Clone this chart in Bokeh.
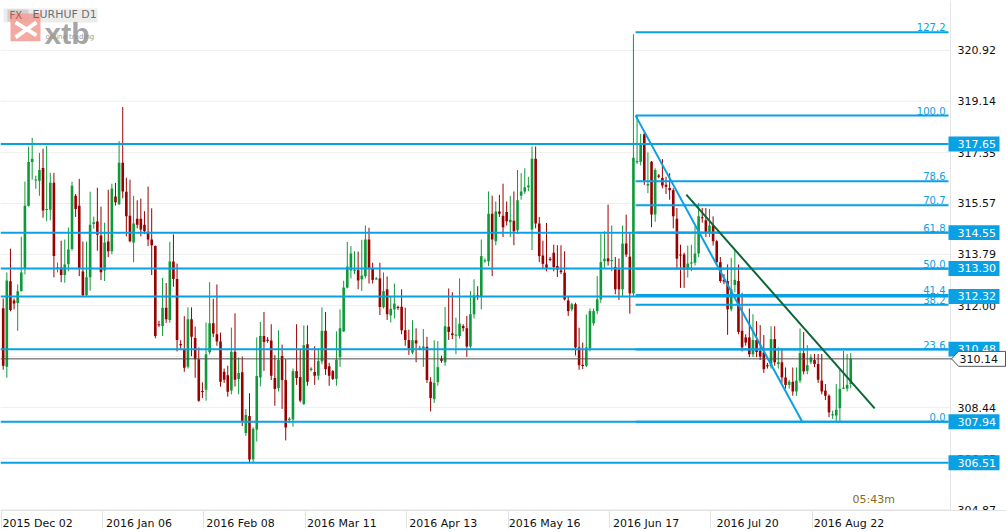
from bokeh.plotting import figure
from bokeh.models import FixedTicker, ColumnDataSource, Range1d
from bokeh.core.properties import value
from bokeh.embed import file_html
from bokeh.resources import INLINE

# ---------------- data ----------------
opens = [311.91, 309.86, 312.85, 312.18, 312.09, 312.50, 313.29, 315.49, 317.02, 316.38,
         316.36, 316.81, 315.34, 315.35, 316.29, 313.29, 313.33, 313.07, 313.45, 313.98,
         315.84, 315.49, 313.19, 312.36, 312.99, 314.85, 314.94, 314.45, 313.23, 314.24,
         313.90, 315.81, 315.54, 316.99, 315.98, 315.14, 314.21, 315.04, 315.04, 314.83,
         314.58, 314.31, 314.08, 311.35, 311.29, 311.93, 311.50, 313.54, 312.93, 310.65,
         310.48, 309.86, 311.52, 310.87, 310.13, 309.02, 309.06, 310.37, 311.38, 311.00,
         310.75, 309.69, 309.57, 309.03, 310.39, 309.44, 309.67, 307.55, 308.14, 306.63,
         307.67, 309.49, 310.94, 310.80, 310.78, 309.47, 309.12, 310.24, 309.40, 308.00,
         308.02, 309.71, 309.50, 308.56, 310.65, 309.75, 309.68, 309.55, 310.05, 311.12,
         309.88, 309.71, 309.44, 310.20, 311.10, 312.63, 313.23, 313.22, 313.24, 312.92,
         313.03, 314.31, 313.32, 312.92, 312.95, 311.95, 312.57, 311.66, 311.87, 311.95,
         311.96, 311.14, 310.80, 310.36, 310.79, 310.50, 310.50, 310.56, 309.34, 308.74,
         309.33, 310.15, 310.02, 311.26, 311.03, 310.96, 310.94, 311.29, 311.21, 310.57,
         311.70, 312.36, 312.33, 313.55, 313.55, 315.21, 314.25, 315.29, 315.14, 315.27,
         314.91, 314.97, 314.63, 315.84, 315.99, 316.14, 314.66, 317.13, 314.87, 313.75,
         313.44, 313.63, 313.85, 313.38, 313.23, 313.15, 312.18, 311.87, 312.05, 310.54,
         309.92, 309.90, 310.51, 311.38, 311.81, 312.22, 313.55, 313.65, 313.57, 313.35,
         313.26, 312.57, 314.17, 313.71, 312.43, 317.01, 317.03, 317.99, 316.20, 317.03,
         315.18, 316.55, 316.46, 316.22, 316.11, 316.03, 315.04, 313.79, 313.79, 313.27,
         313.48, 313.50, 313.82, 315.08, 314.98, 314.54, 314.80, 314.25, 313.52, 312.90,
         312.86, 311.87, 312.72, 312.86, 311.12, 310.89, 310.89, 310.30, 310.80, 310.42,
         310.36, 309.92, 309.88, 310.83, 309.96, 310.02, 309.49, 309.23, 309.34, 309.00,
         309.38, 310.34, 309.72, 310.02, 310.10, 309.96, 309.38, 309.03, 308.85, 308.17,
         308.16, 308.42, 309.10, 309.10, 309.26]
highs = [312.25, 313.16, 313.99, 312.25, 312.74, 314.41, 316.33, 317.55, 317.86, 316.54,
         317.34, 317.48, 317.58, 316.64, 316.64, 313.51, 314.27, 314.31, 314.73, 316.33,
         315.90, 316.43, 314.24, 314.24, 315.98, 315.11, 316.12, 315.46, 314.90, 316.05,
         316.26, 316.29, 317.75, 318.94, 316.47, 316.40, 315.84, 315.68, 315.74, 315.30,
         316.16, 315.40, 314.10, 311.47, 312.97, 312.79, 314.23, 314.49, 313.47, 310.79,
         311.63, 311.94, 311.94, 311.27, 310.54, 309.32, 311.41, 312.82, 312.24, 312.74,
         311.06, 309.80, 309.90, 311.23, 311.73, 310.19, 310.22, 308.39, 308.94, 307.75,
         310.89, 311.43, 311.78, 310.90, 311.35, 310.27, 311.14, 310.64, 310.13, 308.10,
         309.80, 311.35, 310.45, 311.31, 311.31, 309.85, 310.58, 310.50, 311.94, 311.78,
         310.00, 309.75, 311.10, 311.87, 312.87, 314.23, 314.08, 313.90, 313.89, 314.30,
         314.80, 314.72, 313.50, 313.00, 313.50, 313.16, 313.02, 312.33, 312.77, 312.00,
         312.57, 311.93, 311.16, 311.49, 311.21, 310.60, 311.18, 310.91, 309.50, 310.79,
         310.76, 310.25, 311.95, 312.60, 312.47, 311.58, 312.95, 311.35, 311.64, 312.51,
         312.92, 312.68, 314.31, 313.65, 315.99, 315.84, 315.64, 315.87, 316.26, 315.64,
         315.84, 315.99, 316.74, 316.63, 316.80, 316.50, 317.56, 317.56, 315.10, 314.27,
         314.89, 313.70, 314.13, 314.11, 314.11, 313.90, 312.33, 312.10, 312.10, 311.23,
         310.71, 311.69, 311.90, 311.90, 313.03, 314.50, 314.60, 315.53, 314.80, 313.70,
         313.65, 314.80, 315.18, 314.56, 321.48, 318.63, 318.00, 318.05, 317.35, 317.05,
         316.80, 316.60, 317.12, 316.50, 316.63, 316.10, 315.41, 314.13, 313.85, 314.10,
         314.13, 314.77, 315.59, 315.41, 315.41, 315.38, 315.12, 314.30, 313.70, 313.10,
         313.44, 313.67, 313.96, 313.44, 312.45, 311.00, 311.90, 311.70, 311.46, 311.32,
         310.97, 310.00, 311.28, 311.28, 310.54, 310.50, 309.84, 309.40, 309.84, 309.84,
         311.20, 311.08, 310.62, 310.30, 310.31, 310.31, 310.31, 309.26, 308.90, 308.33,
         309.26, 309.75, 310.42, 310.31, 310.34]
lows = [309.76, 309.48, 311.80, 311.87, 311.12, 312.50, 313.09, 315.46, 316.40, 316.08,
        315.84, 315.07, 314.95, 314.98, 312.99, 313.16, 312.82, 312.80, 313.20, 313.92,
        315.10, 313.03, 312.31, 312.31, 312.52, 314.69, 313.92, 312.89, 312.86, 313.70,
        313.80, 315.50, 315.52, 315.75, 314.42, 314.21, 313.52, 314.70, 314.42, 314.50,
        314.08, 313.07, 310.86, 311.26, 310.94, 311.40, 311.40, 312.66, 310.40, 310.48,
        309.69, 309.80, 310.23, 309.48, 308.64, 308.77, 308.68, 310.30, 310.90, 310.60,
        309.17, 309.30, 308.82, 308.90, 309.17, 308.90, 307.79, 307.45, 306.53, 306.53,
        307.25, 309.18, 309.72, 310.70, 309.40, 308.50, 309.00, 308.39, 307.29, 307.90,
        307.77, 309.23, 308.62, 308.53, 309.20, 309.70, 309.23, 309.40, 309.95, 309.58,
        309.20, 309.40, 309.20, 309.86, 311.08, 312.60, 312.95, 313.10, 312.57, 312.51,
        312.95, 312.77, 312.77, 312.90, 311.67, 311.90, 311.50, 311.41, 311.55, 311.85,
        311.00, 310.60, 310.28, 310.30, 310.02, 310.45, 309.86, 309.30, 308.30, 308.60,
        309.20, 310.00, 309.90, 310.80, 310.83, 310.30, 310.85, 311.10, 310.21, 310.50,
        311.55, 312.20, 311.87, 313.50, 313.38, 313.03, 314.11, 315.10, 314.40, 314.80,
        314.40, 314.11, 314.50, 315.70, 315.90, 316.00, 313.94, 314.70, 313.52, 313.30,
        313.20, 313.55, 313.20, 313.00, 313.10, 312.18, 311.64, 311.80, 310.26, 309.76,
        309.78, 309.85, 310.40, 311.30, 311.70, 312.10, 313.30, 313.40, 313.20, 312.40,
        312.20, 312.31, 313.70, 311.72, 312.30, 316.95, 316.90, 316.22, 315.93, 314.74,
        314.93, 316.45, 316.10, 315.90, 315.70, 314.70, 313.29, 312.62, 312.62, 312.98,
        313.20, 313.40, 313.70, 314.90, 314.40, 314.40, 314.10, 313.40, 312.80, 312.75,
        310.98, 311.80, 312.47, 311.00, 310.40, 310.60, 310.20, 310.20, 310.20, 310.10,
        309.65, 309.80, 309.80, 309.90, 309.80, 309.30, 309.10, 309.10, 308.85, 308.85,
        309.30, 309.60, 309.60, 309.95, 309.85, 309.30, 308.90, 308.70, 308.10, 308.04,
        307.93, 307.93, 309.08, 309.00, 309.11]
closes = [309.90, 312.88, 311.85, 312.07, 312.50, 313.16, 315.49, 317.02, 317.13, 316.40,
          316.74, 315.32, 315.38, 316.29, 313.73, 313.34, 313.07, 313.44, 313.96, 316.19,
          315.38, 313.29, 312.36, 312.99, 314.83, 314.91, 314.48, 313.17, 314.21, 313.90,
          316.09, 315.61, 316.99, 315.99, 315.12, 314.25, 314.87, 314.83, 314.66, 314.60,
          314.31, 314.11, 310.94, 311.31, 311.93, 311.52, 313.54, 312.93, 310.80, 310.62,
          309.83, 311.52, 310.91, 310.13, 308.68, 308.98, 310.30, 311.38, 311.03, 310.75,
          309.34, 309.41, 308.99, 310.39, 309.41, 309.65, 307.98, 308.18, 306.62, 307.70,
          309.54, 310.94, 310.73, 310.78, 309.55, 309.09, 310.10, 309.40, 307.74, 308.05,
          309.71, 309.47, 308.68, 310.62, 309.34, 309.80, 309.55, 310.06, 311.12, 309.78,
          309.55, 309.44, 310.11, 311.21, 312.63, 313.36, 313.82, 313.25, 312.88, 313.05,
          314.31, 313.32, 312.90, 312.95, 311.95, 312.51, 311.70, 311.89, 312.07, 311.92,
          311.14, 310.80, 310.51, 310.79, 310.68, 310.52, 310.57, 309.40, 308.77, 309.30,
          309.85, 310.07, 311.28, 311.08, 310.97, 310.98, 311.37, 311.21, 310.57, 311.70,
          312.36, 312.32, 313.73, 313.58, 315.21, 314.31, 315.29, 315.21, 314.74, 314.95,
          315.00, 314.60, 315.68, 315.99, 316.14, 316.20, 317.13, 314.87, 313.73, 313.46,
          313.32, 313.60, 313.35, 313.26, 313.17, 312.22, 311.81, 312.05, 310.54, 309.92,
          309.90, 310.54, 311.81, 311.81, 312.22, 313.52, 313.64, 313.55, 313.58, 312.57,
          312.57, 314.17, 313.79, 312.43, 317.17, 317.05, 317.62, 316.36, 316.25, 315.18,
          316.74, 316.50, 316.20, 316.15, 316.03, 315.12, 313.64, 313.75, 313.26, 313.47,
          313.50, 313.82, 315.12, 315.06, 314.54, 314.80, 314.25, 313.52, 312.86, 312.84,
          311.87, 312.57, 312.90, 311.08, 310.54, 310.71, 310.30, 310.80, 310.38, 310.22,
          309.78, 309.88, 310.83, 310.02, 310.02, 309.49, 309.23, 309.34, 309.00, 309.38,
          310.34, 309.70, 309.92, 310.19, 309.96, 309.41, 309.00, 308.85, 308.27, 308.20,
          308.36, 309.09, 309.13, 309.23, 310.14]

x_tick_bars = [0, 28, 56, 84, 112, 140, 168, 196, 224]
x_tick_labels = ["2015 Dec 02", "2016 Jan 06", "2016 Feb 08", "2016 Mar 11", "2016 Apr 13",
                 "2016 May 16", "2016 Jun 17", "2016 Jul 20", "2016 Aug 22"]
y_ticks = [304.87, 306.65, 308.44, 310.22, 312.00, 313.79, 315.57, 317.35, 319.14, 320.92]
level_prices = [317.65, 314.55, 313.30, 312.32, 310.48, 307.94, 306.51]
last_price = 310.14
fib_low = 307.94
fib_high = 318.64
fib_levels = [0.0, 23.6, 38.2, 41.4, 50.0, 61.8, 70.7, 78.6, 100.0, 127.2]
fib_start_bar = 174.6
blue_trend_x = [174.6, 220.6]
blue_trend_y = [318.64, 307.94]
green_trend_x = [188.6, 240.6]
green_trend_y = [315.88, 308.41]
symbol_text = "EURHUF D1"
timer_text = "05:43m"

# ---------------- layout (page pixels -> data) ----------------
W, H = 1006, 532
BORDER_B = 20
FRAME_H = H - BORDER_B
K = 3.622            # px per bar
XMIN = -2.7 / K
XMAX = XMIN + W / K
S = 28.73            # px per HUF
YMAX = 317.65 + 144 / S
YMIN = YMAX - FRAME_H / S


def bx(xp):
    return XMIN + xp / K


def py(yp):
    return YMAX - yp / S


def ph(h):
    return h / S


GREEN = "#0f9a3a"
RED = "#990000"
BLUE = "#0aa0e4"
DKGREEN = "#0b6634"
FONT = "DejaVu Sans"
AXIS_X = 950

p = figure(width=W, height=H, x_range=Range1d(XMIN, XMAX), y_range=Range1d(YMIN, YMAX),
           y_axis_location=None, output_backend="svg", toolbar_location=None,
           min_border_left=0, min_border_top=0, min_border_right=0,
           min_border_bottom=BORDER_B, outline_line_color=None)

# x axis (real), labels left-aligned after each separator
SHIFT = 9.5
xt = FixedTicker(ticks=[b + SHIFT for b in x_tick_bars], minor_ticks=[b - 0.6 for b in x_tick_bars])
p.xaxis.ticker = xt
p.xaxis.major_label_overrides = {b + SHIFT: lab for b, lab in zip(x_tick_bars, x_tick_labels)}
p.xaxis.major_tick_line_color = None
p.xaxis.minor_tick_line_color = "#e3e3e3"
p.xaxis.minor_tick_in = 0
p.xaxis.minor_tick_out = 18
p.xaxis.axis_line_color = "#e3e3e3"
p.xaxis.major_label_standoff = -12
p.xaxis.major_label_text_font = FONT
p.xaxis.major_label_text_font_size = "11px"
p.xaxis.major_label_text_color = "#111111"
p.xgrid.visible = False
p.ygrid.visible = False

# price scale on the right (drawn in the frame)
n_t = len(y_ticks)
p.segment(x0=[bx(0)] * n_t, y0=y_ticks, x1=[bx(AXIS_X)] * n_t, y1=y_ticks,
          line_color="#efefef", line_width=1)
p.segment(x0=[bx(AXIS_X)], y0=[YMIN], x1=[bx(AXIS_X)], y1=[YMAX], line_color="#e6e6e6", line_width=1)
p.text(x=[bx(957)] * n_t, y=y_ticks, text=[f"{v:.2f}" for v in y_ticks], text_align="left",
       text_baseline="middle", text_font=value(FONT), text_font_size="11px", text_color="#111111")

# candles
n = len(opens)
xs = list(range(n))
cols = [GREEN if c >= o else RED for o, c in zip(opens, closes)]
tops, bots = [], []
for o, c in zip(opens, closes):
    t, b = max(o, c), min(o, c)
    if t - b < 0.04:
        m = (t + b) / 2
        t, b = m + 0.02, m - 0.02
    tops.append(t)
    bots.append(b)
src = ColumnDataSource(dict(x=xs, high=highs, low=lows, top=tops, bottom=bots, color=cols))
p.segment(x0="x", y0="low", x1="x", y1="high", line_color="color", line_width=1, source=src)
p.vbar(x="x", width=0.72, top="top", bottom="bottom", fill_color="color", line_color=None, source=src)

# horizontal levels and last price line
n_l = len(level_prices)
p.segment(x0=[bx(0)] * n_l, y0=level_prices, x1=[bx(948)] * n_l, y1=level_prices,
          line_color=BLUE, line_width=2)
p.segment(x0=[bx(0)], y0=[last_price], x1=[bx(952)], y1=[last_price], line_color="#4d4d4d", line_width=1)

# fibonacci
fib_prices = [fib_low + lv / 100.0 * (fib_high - fib_low) for lv in fib_levels]
p.segment(x0=[fib_start_bar] * len(fib_prices), y0=fib_prices,
          x1=[bx(948)] * len(fib_prices), y1=fib_prices, line_color=BLUE, line_width=2)
p.text(x=[bx(945)] * len(fib_prices), y=fib_prices, text=[f"{lv:.1f}" for lv in fib_levels],
       text_align="right", text_baseline="bottom", text_font=value(FONT),
       text_font_size="10px", text_color=BLUE, y_offset=-1)

# trend lines
p.line(blue_trend_x, blue_trend_y, line_color=BLUE, line_width=2)
p.line(green_trend_x, green_trend_y, line_color=DKGREEN, line_width=2)

# price boxes on the scale
p.quad(left=[bx(948)] * n_l, right=[bx(999)] * n_l,
       top=[v + ph(7.5) for v in level_prices], bottom=[v - ph(7.5) for v in level_prices],
       fill_color=BLUE, line_color=None)
p.text(x=[bx(957)] * n_l, y=level_prices, text=[f"{v:.2f}" for v in level_prices],
       text_align="left", text_baseline="middle", text_font=value(FONT),
       text_font_size="11px", text_color="white")
lp = last_price
p.patch(x=[bx(951), bx(958), bx(1005), bx(1005), bx(958)],
        y=[lp, lp + ph(7.5), lp + ph(7.5), lp - ph(7.5), lp - ph(7.5)],
        fill_color="white", line_color="#555555", line_width=1)
p.text(x=[bx(959)], y=[lp], text=[f"{lp:.2f}"], text_align="left", text_baseline="middle",
       text_font=value(FONT), text_font_size="11px", text_color="#111111")

# timer
p.text(x=[bx(852)], y=[py(501)], text=[timer_text], text_align="left", text_baseline="middle",
       text_font=value(FONT), text_font_size="11px", text_color="#8a6a12")

# logo / symbol box
p.quad(left=[bx(3)], right=[bx(97)], top=[py(8)], bottom=[py(22)], fill_color="#e0e0e0",
       fill_alpha=0.6, line_color=None)
p.quad(left=[bx(7)], right=[bx(28)], top=[py(9)], bottom=[py(21)], fill_color="#c9c9c9",
       fill_alpha=0.8, line_color=None)
p.quad(left=[bx(10)], right=[bx(40)], top=[py(13)], bottom=[py(41)], fill_color="#f2a199",
       fill_alpha=0.9, line_color=None)
p.segment(x0=[bx(15), bx(15)], y0=[py(22), py(37)], x1=[bx(36), bx(36)], y1=[py(35), py(22)],
          line_color="white", line_width=4)
p.text(x=[bx(9)], y=[py(15)], text=["FX"], text_align="left", text_baseline="middle",
       text_font=value(FONT), text_font_size="10px", text_color="#b85450")
p.text(x=[bx(32)], y=[py(14)], text=[symbol_text], text_align="left", text_baseline="middle",
       text_font=value(FONT), text_font_size="11px", text_color="#555555", text_alpha=0.85)
p.text(x=[bx(44)], y=[py(33)], text=["xtb"], text_align="left", text_baseline="alphabetic",
       text_font=value("Liberation Sans"), text_font_style="bold", text_font_size="30px",
       text_color="#8c8c8c", text_alpha=0.8)
p.text(x=[bx(45)], y=[py(37)], text=["online trading"], text_align="left", text_baseline="middle",
       text_font=value(FONT), text_font_size="7px", text_color="#8c8c8c", text_alpha=0.9)

open("out.html", "w").write(file_html(p, INLINE))
